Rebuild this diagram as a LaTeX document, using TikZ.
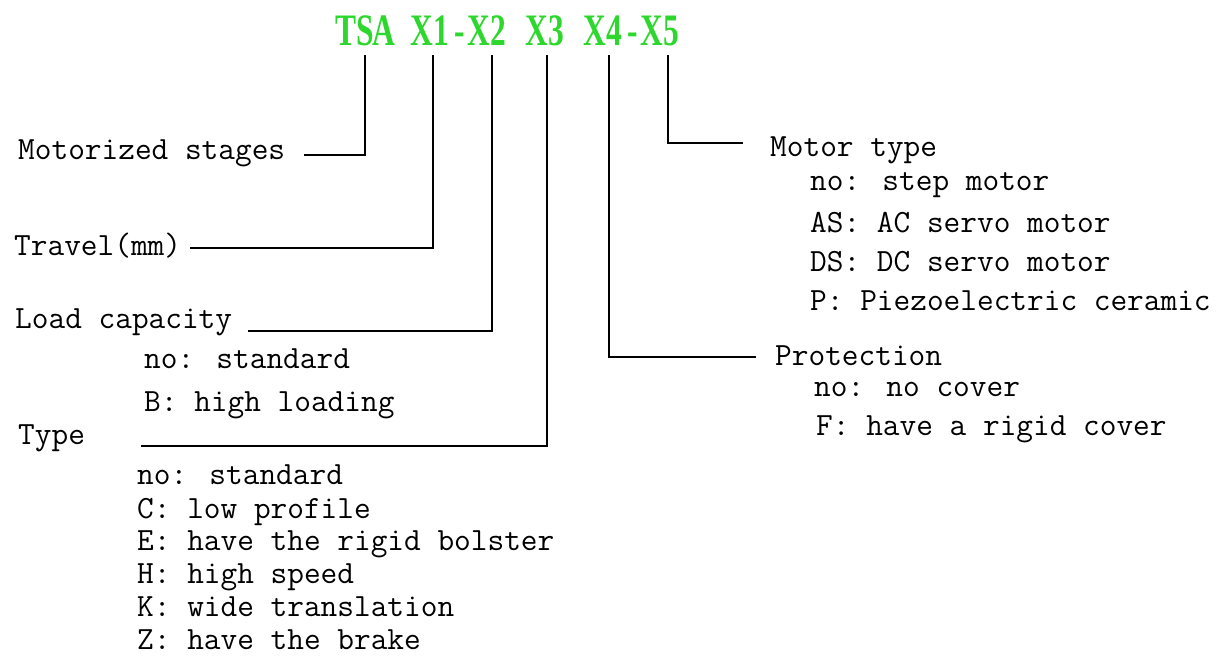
\documentclass[tikz,border=0pt]{standalone}
\usepackage{fontspec}
\usepackage{graphicx}
\newfontfamily\ttlfont{Liberation Serif}
\definecolor{ttlgreen}{RGB}{45,215,45}
\tikzset{
  lbl/.style={anchor=base west, inner sep=0pt, font=\fontsize{32.4}{36}\selectfont\ttfamily},
  ttl/.style={anchor=base west, inner sep=0pt, text=ttlgreen, font=\fontsize{45}{50}\selectfont\ttlfont\bfseries},
  conn/.style={line width=1.7pt, line join=miter}
}
\newcommand{\tc}[1]{\makebox[19pt]{\scalebox{0.7}[1]{#1}}}
\begin{document}
\begin{tikzpicture}[x=1pt,y=-1pt]
\useasboundingbox (0,0) rectangle (1228,656);
% title
\node[ttl] (tsa) at (336.5,45) {\tc{T}\tc{S}\tc{A}};
\node[ttl] (x12) at (412.5,45) {\tc{X}\tc{1}\tc{-}\tc{X}\tc{2}};
\node[ttl] (x3)  at (527.5,45) {\tc{X}\tc{3}};
\node[ttl] (x45) at (585.5,45) {\tc{X}\tc{4}\tc{-}\tc{X}\tc{5}};
% connector start points under title
\coordinate (sTSA) at (365,55);
\coordinate (sX1) at (433,55);
\coordinate (sX2) at (492,55);
\coordinate (sX3) at (547.3,55);
\coordinate (sX4) at (609,55);
\coordinate (sX5) at (667.7,55);
% left labels
\node[lbl] (mot) at (18,159.3) {Motorized stages};
\node[lbl] (trav) at (14,255) {Travel(mm)};
\node[lbl] (load) at (15,328) {Load capacity};
\node[lbl] (load1) at (144,368.3) {no: standard};
\node[lbl] (load2) at (144,411) {B: high loading};
\node[lbl] (type) at (18,444) {Type};
\node[lbl] (type1) at (137,484.7) {no: standard};
\node[lbl] (type2) at (137,518.7) {C: low profile};
\node[lbl] (type3) at (137,550.7) {E: have the rigid bolster};
\node[lbl] (type4) at (137,583.7) {H: high speed};
\node[lbl] (type5) at (137,616.3) {K: wide translation};
\node[lbl] (type6) at (137,649.7) {Z: have the brake};
% right labels
\node[lbl] (mtype) at (770,156) {Motor type};
\node[lbl] (mt1) at (810,190.7) {no: step motor};
\node[lbl] (mt2) at (810,232) {AS: AC servo motor};
\node[lbl] (mt3) at (810,271.7) {DS: DC servo motor};
\node[lbl] (mt4) at (810,310) {P: Piezoelectric ceramic};
\node[lbl] (prot) at (775,365) {Protection};
\node[lbl] (pr1) at (814,396.7) {no: no cover};
\node[lbl] (pr2) at (816,435) {F: have a rigid cover};
% connector end points
\coordinate (eMot) at (304,155);
\coordinate (eTrav) at (190,248.3);
\coordinate (eLoad) at (248,330.7);
\coordinate (eType) at (141,446);
\coordinate (eProt) at (756,357.3);
\coordinate (eMtype) at (743.3,142.7);
% connectors
\draw[conn] (sTSA) |- (eMot);
\draw[conn] (sX1) |- (eTrav);
\draw[conn] (sX2) |- (eLoad);
\draw[conn] (sX3) |- (eType);
\draw[conn] (sX4) |- (eProt);
\draw[conn] (sX5) |- (eMtype);
\end{tikzpicture}
\end{document}
